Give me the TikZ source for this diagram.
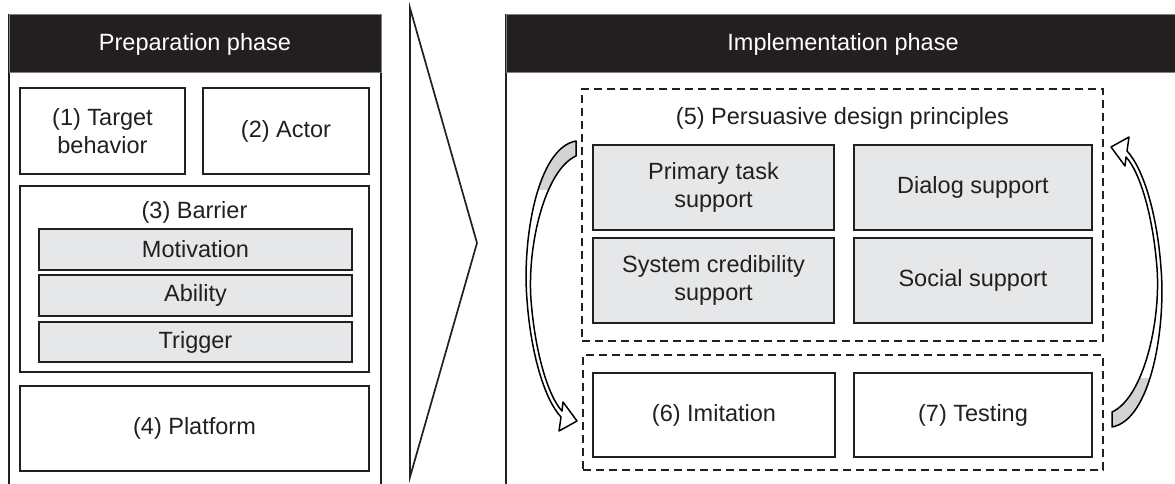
\documentclass[tikz,border=0pt]{standalone}
\usepackage{fontspec}
\setmainfont{Liberation Sans}
\definecolor{ink}{HTML}{231F20}
\definecolor{boxgrey}{HTML}{E6E7E8}
\definecolor{tailgrey}{HTML}{D1D3D4}
\tikzset{
	box/.style={draw=ink, line width=1.7pt, inner sep=0pt, align=center, text=ink},
	greybox/.style={box, fill=boxgrey},
	dashbox/.style={draw=ink, line width=1.6pt, dash pattern=on 8pt off 5pt, inner sep=0pt},
	headbar/.style={fill=ink, draw=gray, line width=1pt},
	ribbon/.style={draw=black, fill=white, line width=1.5pt, line join=round},
}
\begin{document}
\begin{tikzpicture}[x=1pt, y=-1pt, font=\fontsize{23.5}{28}\selectfont]
	\useasboundingbox (0,0) rectangle (1175,484);
	\clip (0,0) rectangle (1175,484);

	% preparation phase
	\draw[ink, line width=1.7pt] (9,500) -- (9,15) -- (381,15) -- (381,500);
	\filldraw[headbar] (9,15) rectangle (381,73);
	\node[text=white] (prep) at (195,44) {Preparation phase};
	\node[box, minimum width=165pt, minimum height=86pt] (target) at (102.5,131) {(1) Target\\behavior};
	\node[box, minimum width=166pt, minimum height=86pt] (actor) at (286,131) {(2) Actor};
	\node[box, minimum width=349pt, minimum height=186pt] (barrier) at (194.5,279) {};
	\node[text=ink] (barriertitle) at (194.5,212) {(3) Barrier};
	\node[greybox, minimum width=313pt, minimum height=41pt] (motiv) at (195.5,249.5) {Motivation};
	\node[greybox, minimum width=313pt, minimum height=41pt] (ability) at (195.5,295.5) {Ability};
	\node[greybox, minimum width=313pt, minimum height=40pt] (trigger) at (195.5,342) {Trigger};
	\node[box, minimum width=349pt, minimum height=85pt] (platform) at (194.5,428.5) {(4) Platform};

	% big chevron
	\draw[ink, line width=1.7pt] (410,8) -- (477,243) -- (410,477) -- cycle;

	% implementation phase
	\draw[ink, line width=1.7pt] (506,500) -- (506,15) -- (1190,15);
	\filldraw[headbar] (506,15) rectangle (1190,73);
	\node[text=white] (impl) at (843,44) {Implementation phase};
	\node[dashbox, minimum width=521pt, minimum height=252pt] (pdp) at (842.5,215) {};
	\node[text=ink] (pdptitle) at (842.5,118) {(5) Persuasive design principles};
	\node[greybox, minimum width=241pt, minimum height=85pt] (primary) at (713.5,187.5) {Primary task\\support};
	\node[greybox, minimum width=238pt, minimum height=85pt] (dialog) at (973,187.5) {Dialog support};
	\node[greybox, minimum width=241pt, minimum height=85pt] (credib) at (713.5,280.5) {System credibility\\support};
	\node[greybox, minimum width=238pt, minimum height=85pt] (social) at (973,280.5) {Social support};
	\node[dashbox, minimum width=520pt, minimum height=115pt] (imtest) at (843,412.5) {};
	\node[box, minimum width=242pt, minimum height=84pt] (imitation) at (714,415) {(6) Imitation};
	\node[box, minimum width=238pt, minimum height=84pt] (testing) at (973,415) {(7) Testing};

	% loop arrows
	\draw[ribbon, path picture={\fill[tailgrey] (500,120) rectangle (600,190);}]
		(576,141) .. controls (537,148) and (522,240) .. (527,300)
		.. controls (531,355) and (545,400) .. (561,417)
		-- (559,431) -- (577,421) -- (563,402) -- (562,411)
		.. controls (548,396) and (535,352) .. (531,300)
		.. controls (527,245) and (545,170) .. (576,156) -- cycle;
	\draw[ribbon, path picture={\fill[tailgrey] (1088,378) rectangle (1188,448);}]
		(1112,427) .. controls (1151,420) and (1166,328) .. (1161,268)
		.. controls (1157,213) and (1143,168) .. (1127,151)
		-- (1129,137) -- (1111,147) -- (1125,166) -- (1126,157)
		.. controls (1140,172) and (1153,216) .. (1157,268)
		.. controls (1161,323) and (1143,398) .. (1112,412) -- cycle;
\end{tikzpicture}
\end{document}
